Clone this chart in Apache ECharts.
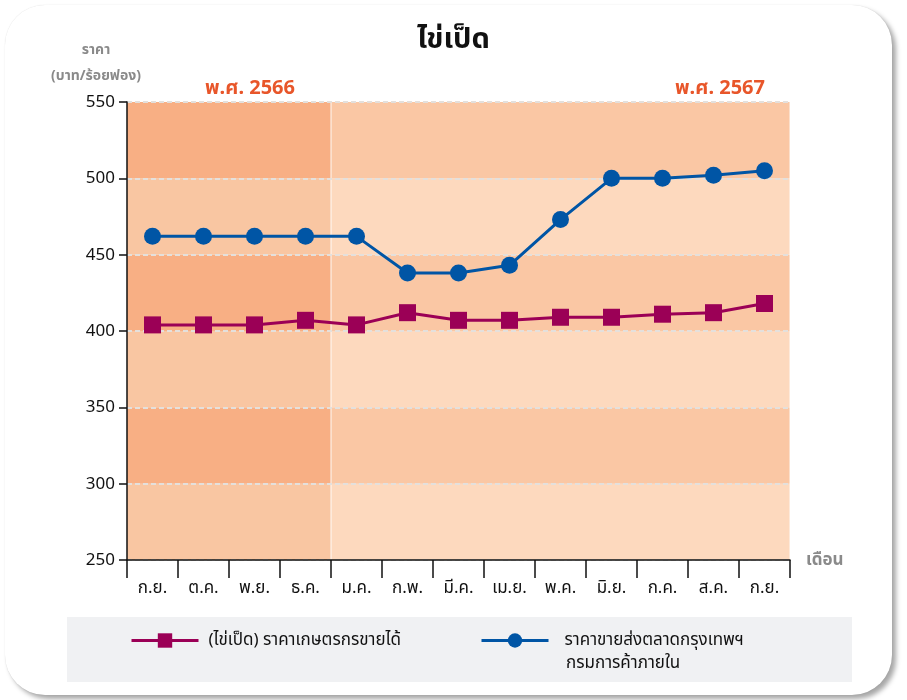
<!DOCTYPE html>
<html lang="th">
<head>
<meta charset="UTF-8">
<title>ไข่เป็ด</title>
<script src="https://cdn.jsdelivr.net/npm/echarts@6/dist/echarts.min.js"></script>
<style>
    body { margin: 0; background: #fff; }
    #card {
        position: absolute; left: 5px; top: 5px; width: 887px; height: 690px;
        border-radius: 40px; background: #fff;
        box-shadow: 4px 4px 5px rgba(0,0,0,0.35), 0 0 1px rgba(0,0,0,0.15);
    }
    #main { position: absolute; left: 0; top: 0; width: 907px; height: 700px; }
</style>
</head>
<body>
<div id="card"></div>
<div id="main"></div>
<script type="text/javascript">
    var months = ['ก.ย.', 'ต.ค.', 'พ.ย.', 'ธ.ค.', 'ม.ค.', 'ก.พ.', 'มี.ค.', 'เม.ย.', 'พ.ค.', 'มิ.ย.', 'ก.ค.', 'ส.ค.', 'ก.ย.'];
    // ราคาเกษตรกรขายได้
    var farmPrice = [404, 404, 404, 407, 404, 412, 407, 407, 409, 409, 411, 412, 418];
    // ราคาขายส่งตลาดกรุงเทพฯ
    var wholesalePrice = [462, 462, 462, 462, 462, 438, 438, 443, 473, 500, 500, 502, 505];
    var yTicks = [250, 300, 350, 400, 450, 500, 550];
    var monthsIn2566 = 4;   // ก.ย. - ธ.ค.

    var farmName = '(ไข่เป็ด) ราคาเกษตรกรขายได้';
    var wholesaleName = 'ราคาขายส่งตลาดกรุงเทพฯ\nกรมการค้าภายใน';

    var font = '"Noto Sans", "Noto Sans Thai", sans-serif';

    // แถบสีพื้นหลัง: ปี 2566 สีเข้มกว่า ปี 2567
    var bands = [];
    for (var i = 0; i < yTicks.length - 1; i++) {
        var odd = i % 2 === 1;
        bands.push([
            { xAxis: 0, yAxis: yTicks[i], itemStyle: { color: odd ? '#f8af84' : '#f9c6a2' } },
            { xAxis: monthsIn2566, yAxis: yTicks[i + 1] }
        ]);
        bands.push([
            { xAxis: monthsIn2566, yAxis: yTicks[i], itemStyle: { color: odd ? '#fac7a4' : '#fdd9be' } },
            { xAxis: months.length, yAxis: yTicks[i + 1] }
        ]);
    }

    var chart = echarts.init(document.getElementById('main'));
    var option = {
        textStyle: { fontFamily: font },
        title: [
            { text: 'ไข่เป็ด', left: 'center', top: 20,
              textStyle: { fontSize: 29, fontWeight: 'bold', color: '#111', fontFamily: font } },
            { text: 'ราคา', left: 91, top: 38, textAlign: 'center',
              textStyle: { fontSize: 14, fontWeight: 'bold', color: '#8a8a8a', fontFamily: font } },
            { text: '(บาท/ร้อยฟอง)', left: 91, top: 64, textAlign: 'center',
              textStyle: { fontSize: 14, fontWeight: 'bold', color: '#8a8a8a', fontFamily: font } },
            { text: 'พ.ศ. 2566', left: 245, top: 73, textAlign: 'center',
              textStyle: { fontSize: 20, fontWeight: 'bold', color: '#e8562a', fontFamily: font } },
            { text: 'พ.ศ. 2567', left: 715, top: 73, textAlign: 'center',
              textStyle: { fontSize: 20, fontWeight: 'bold', color: '#e8562a', fontFamily: font } },
            { text: 'กรมการค้าภายใน', left: 561, top: 650,
              textStyle: { fontSize: 17, fontWeight: 'normal', color: '#111', fontFamily: font } }
        ],
        graphic: [{
            type: 'rect', left: 67, top: 617, z: -10,
            shape: { width: 785, height: 65 },
            style: { fill: '#f0f1f3' }
        }],
        legend: [{
            data: [farmName], left: 125, top: 627,
            itemWidth: 67, itemHeight: 18,
            lineStyle: { width: 3 },
            textStyle: { fontSize: 17, color: '#111', padding: [0, 0, 0, 5] }
        }, {
            data: [wholesaleName], left: 475, top: 627,
            itemWidth: 67, itemHeight: 18,
            lineStyle: { width: 3 },
            formatter: function (name) { return name.split('\n')[0]; },
            textStyle: { fontSize: 17, color: '#111', padding: [0, 0, 0, 11] }
        }],
        grid: { left: 127, right: 117, top: 102, bottom: 140 },
        xAxis: [{
            type: 'category',
            data: months,
            boundaryGap: true,
            name: 'เดือน',
            nameLocation: 'end',
            nameGap: 16,
            nameTextStyle: { fontSize: 17, fontWeight: 'bold', color: '#8a8a8a' },
            axisLine: { lineStyle: { color: '#111', width: 1.5 } },
            axisTick: { show: true, length: 18, interval: 0, lineStyle: { color: '#111', width: 1.5 } },
            axisLabel: { fontSize: 17, color: '#111', margin: 20, interval: 0 }
        }, {
            type: 'value', min: 0, max: months.length, show: false
        }],
        yAxis: {
            type: 'value',
            min: 250, max: 550, interval: 50,
            axisLine: { show: true, lineStyle: { color: '#111', width: 1.5 } },
            axisTick: { show: true, length: 8, lineStyle: { color: '#111', width: 1.5 } },
            axisLabel: { fontSize: 17, color: '#111', margin: 12 },
            splitLine: { show: true, lineStyle: { color: '#e4e0dc', width: 2, type: [5, 3] } },
            splitArea: { show: false }
        },
        series: [{
            type: 'line',
            xAxisIndex: 1,
            data: [],
            silent: true,
            z: -2,
            markArea: { silent: true, z: -2, data: bands },
            markLine: {
                silent: true, symbol: 'none', label: { show: false }, z: -1,
                lineStyle: { color: 'rgba(255,255,255,0.6)', width: 1.5, type: 'solid' },
                data: [{ xAxis: monthsIn2566 }, { xAxis: months.length }]
            }
        }, {
            name: farmName,
            type: 'line',
            data: farmPrice,
            symbol: 'rect',
            symbolSize: 17,
            z: 5,
            lineStyle: { color: '#9b0056', width: 3 },
            itemStyle: { color: '#9b0056' }
        }, {
            name: wholesaleName,
            type: 'line',
            data: wholesalePrice,
            symbol: 'circle',
            symbolSize: 17,
            z: 5,
            lineStyle: { color: '#0055a5', width: 3 },
            itemStyle: { color: '#0055a5' }
        }]
    };
    chart.setOption(option);
</script>
</body>
</html>
